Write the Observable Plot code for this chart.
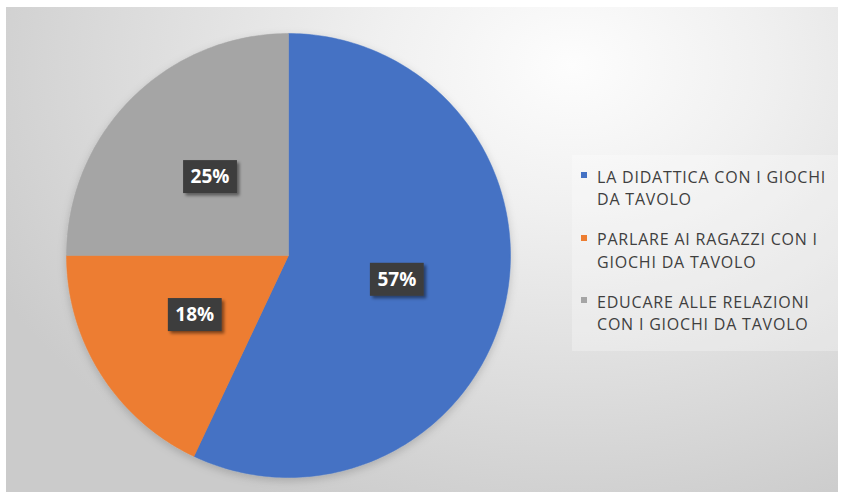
<!DOCTYPE html>
<html><head><meta charset="utf-8">
<script src="https://cdn.jsdelivr.net/npm/d3@7"></script>
<script src="https://cdn.jsdelivr.net/npm/@observablehq/plot@0.6"></script>
<style>
html,body{margin:0;padding:0;background:#fff;}
#wrap{position:relative;width:844px;height:495px;overflow:hidden;}
#panel{position:absolute;left:6px;top:7px;width:832px;height:485px;
  background:radial-gradient(ellipse 78% 100% at 68% 12%, #fdfdfd 0%, #f0f0f0 30%, #dcdcdc 68%, #cbcbcb 100%);}
#chart{position:absolute;left:0;top:0;}
#legend{position:absolute;left:572px;top:155px;width:266px;height:196px;background:rgba(255,255,255,0.28);}
.item{position:absolute;left:25px;width:236px;font-family:"Open Sans",sans-serif;font-size:16px;letter-spacing:0.8px;color:#3f3f3f;line-height:22.5px;}
.sw{position:absolute;left:-16px;top:6.6px;width:6px;height:6px;}
</style></head><body>
<div id="wrap"><div id="panel"></div><div id="chart"></div><div id="legend"></div></div>
<script>
const categories = [
  "LA DIDATTICA CON I GIOCHI DA TAVOLO",
  "PARLARE AI RAGAZZI CON I GIOCHI DA TAVOLO",
  "EDUCARE ALLE RELAZIONI CON I GIOCHI DA TAVOLO"
];
const values = [57, 18, 25];
const colors = ["#4472C4", "#ED7D31", "#A5A5A5"];

const data = categories.map((key, i) => ({key, value: values[i]}));
const arcs = d3.pie().sort(null).value(d => d.value)(data);

const pts = arcs.flatMap(s => {
  const key = s.data.key;
  const n = Math.max(2, Math.ceil((s.endAngle - s.startAngle) / (Math.PI / 180)));
  const arr = [{key, x: 0, y: 0}];
  for (let i = 0; i <= n; i++) {
    const a = s.startAngle + (s.endAngle - s.startAngle) * i / n;
    arr.push({key, x: Math.sin(a), y: Math.cos(a)});
  }
  arr.push({key, x: 0, y: 0});
  return arr;
});
const labels = arcs.map(s => {
  const m = (s.startAngle + s.endAngle) / 2;
  return {x: 0.5 * Math.sin(m), y: 0.5 * Math.cos(m), text: s.data.value + "%"};
});

const svg = Plot.plot({
  width: 844, height: 495,
  x: {domain: [-1, 1], range: [66, 510], axis: null},
  y: {domain: [-1, 1], range: [477, 33], axis: null},
  color: {domain: categories, range: colors},
  style: {background: "transparent", overflow: "visible"},
  marks: [
    Plot.line(pts, {x: "x", y: "y", z: "key", fill: "key", stroke: "key", strokeWidth: 0.5}),
    Plot.text(labels, {x: "x", y: "y", text: "text", fill: "white", fontSize: 19, fontWeight: "bold", fontFamily: "Open Sans"})
  ]
});
document.getElementById("chart").appendChild(svg);

const ns = "http://www.w3.org/2000/svg";
const defs = document.createElementNS(ns, "defs");
defs.innerHTML = `<filter id="sh" x="-30%" y="-30%" width="160%" height="160%"><feDropShadow dx="2.5" dy="2.5" stdDeviation="1.8" flood-color="#000" flood-opacity="0.45"/></filter>
<filter id="psh" x="-10%" y="-10%" width="120%" height="120%"><feDropShadow dx="0" dy="3" stdDeviation="4" flood-color="#000" flood-opacity="0.18"/></filter>`;
svg.insertBefore(defs, svg.firstChild);
const lineG = svg.querySelector('g[aria-label="line"]');
if (lineG) lineG.setAttribute("filter", "url(#psh)");

// label boxes (drawn behind each text, in the text's own coordinate frame)
const textG = svg.querySelector('g[aria-label="text"]');
if (textG) {
  const boxG = document.createElementNS(ns, "g");
  if (textG.getAttribute("transform")) boxG.setAttribute("transform", textG.getAttribute("transform"));
  textG.parentNode.insertBefore(boxG, textG);
  textG.querySelectorAll("text").forEach(t => {
    const b = t.getBBox();
    const r = document.createElementNS(ns, "rect");
    const w = b.width + 15, h = 33;
    r.setAttribute("x", b.x + b.width / 2 - w / 2);
    r.setAttribute("y", b.y + b.height / 2 - h / 2 + 0.5);
    r.setAttribute("width", w);
    r.setAttribute("height", h);
    r.setAttribute("fill", "#3d3d3d");
    r.setAttribute("filter", "url(#sh)");
    const tr = t.getAttribute("transform");
    if (tr) r.setAttribute("transform", tr);
    boxG.appendChild(r);
  });
}

// legend
const legend = document.getElementById("legend");
categories.forEach((c, i) => {
  const it = document.createElement("div");
  it.className = "item";
  it.style.top = (10.7 + i * 62.5) + "px";
  it.textContent = c;
  const sw = document.createElement("div");
  sw.className = "sw";
  sw.style.background = colors[i];
  it.appendChild(sw);
  legend.appendChild(it);
});
</script>
</body></html>
